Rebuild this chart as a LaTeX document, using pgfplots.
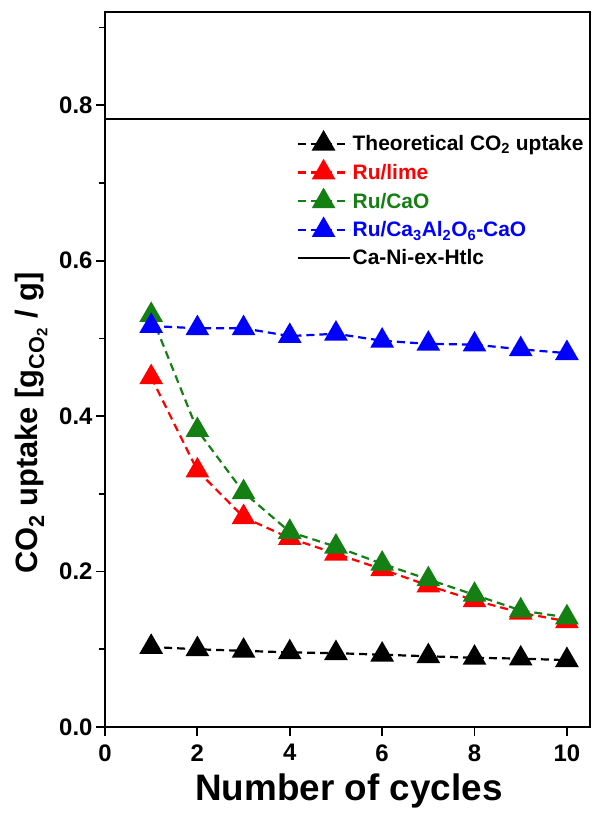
\documentclass[border=0pt]{standalone}
\usepackage{pgfplots}
\pgfplotsset{compat=1.18}
\usepackage{fontspec}
\setmainfont{Liberation Sans}
\definecolor{cgreen}{RGB}{20,128,20}
\definecolor{cred}{RGB}{255,0,0}
\definecolor{cblue}{RGB}{0,0,255}
\begin{document}
\begin{tikzpicture}
\begin{axis}[
  scale only axis, width=485bp, height=715bp,
  xmin=0, xmax=10.5, ymin=0, ymax=0.92,
  xtick={0,2,4,6,8,10}, ytick={0,0.2,0.4,0.6,0.8},
  minor ytick={0.1,0.3,0.5,0.7,0.9},
  tick align=outside, xtick pos=bottom, ytick pos=left,
  major tick length=9bp, minor tick length=6bp,
  axis line style={line width=2bp},
  every tick/.style={line width=1.8bp, black},
  scaled y ticks=false,
  /pgf/number format/assume math mode=true,
  ticklabel style={font=\fontsize{24}{28}\selectfont\bfseries},
  xticklabel style={yshift=-5bp},
  yticklabel style={/pgf/number format/.cd, fixed, fixed zerofill, precision=1},
  xlabel={Number of cycles},
  xlabel style={font=\fontsize{37}{40}\selectfont\bfseries, at={(axis description cs:0.503,-0.09)}, anchor=center},
  ylabel={CO\textsubscript{2} uptake [g\textsubscript{CO\textsubscript{2}} / g]},
  ylabel style={font=\fontsize{31}{34}\selectfont\bfseries, at={(axis description cs:-0.152,0.425)}, anchor=center},
  legend style={at={(axis description cs:0.995,0.835)}, anchor=north east, draw=none, fill=none,
    font=\fontsize{21}{25}\selectfont\bfseries, row sep=7bp, inner sep=2bp},
  legend cell align=left,
  legend image code/.code={\draw[mark repeat=2,mark phase=2,#1] plot coordinates {(0bp,0bp) (26bp,0bp) (52bp,0bp)};},
  every axis plot/.append style={line width=2.2bp, dash pattern=on 8bp off 5bp, mark=triangle*, mark size=11.5bp, mark options={solid}},
]
\addplot[black] coordinates {(1,0.103) (2,0.100) (3,0.098) (4,0.096) (5,0.095) (6,0.093) (7,0.091) (8,0.089) (9,0.088) (10,0.086)};
\addlegendentry{Theoretical CO\textsubscript{2} uptake}
\addplot[cred] coordinates {(1,0.45) (2,0.33) (3,0.27) (4,0.243) (5,0.223) (6,0.203) (7,0.182) (8,0.163) (9,0.147) (10,0.136)};
\addlegendentry{\textcolor{cred}{Ru/lime}}
\addplot[cgreen] coordinates {(1,0.53) (2,0.382) (3,0.302) (4,0.251) (5,0.232) (6,0.210) (7,0.190) (8,0.170) (9,0.150) (10,0.141)};
\addlegendentry{\textcolor{cgreen}{Ru/CaO}}
\addplot[cblue] coordinates {(1,0.516) (2,0.513) (3,0.513) (4,0.503) (5,0.506) (6,0.497) (7,0.493) (8,0.492) (9,0.486) (10,0.481)};
\addlegendentry{\textcolor{cblue}{Ru/Ca\textsubscript{3}Al\textsubscript{2}O\textsubscript{6}-CaO}}
\addplot[black, solid, no marks, line width=1.8bp] coordinates {(0,0.782) (10.5,0.782)};
\addlegendentry{Ca-Ni-ex-Htlc}
\end{axis}
\pgfresetboundingbox
\path ([shift={(-105bp,-87bp)}]current axis.south west) rectangle ([shift={(2bp,12bp)}]current axis.north east);
\end{tikzpicture}
\end{document}
